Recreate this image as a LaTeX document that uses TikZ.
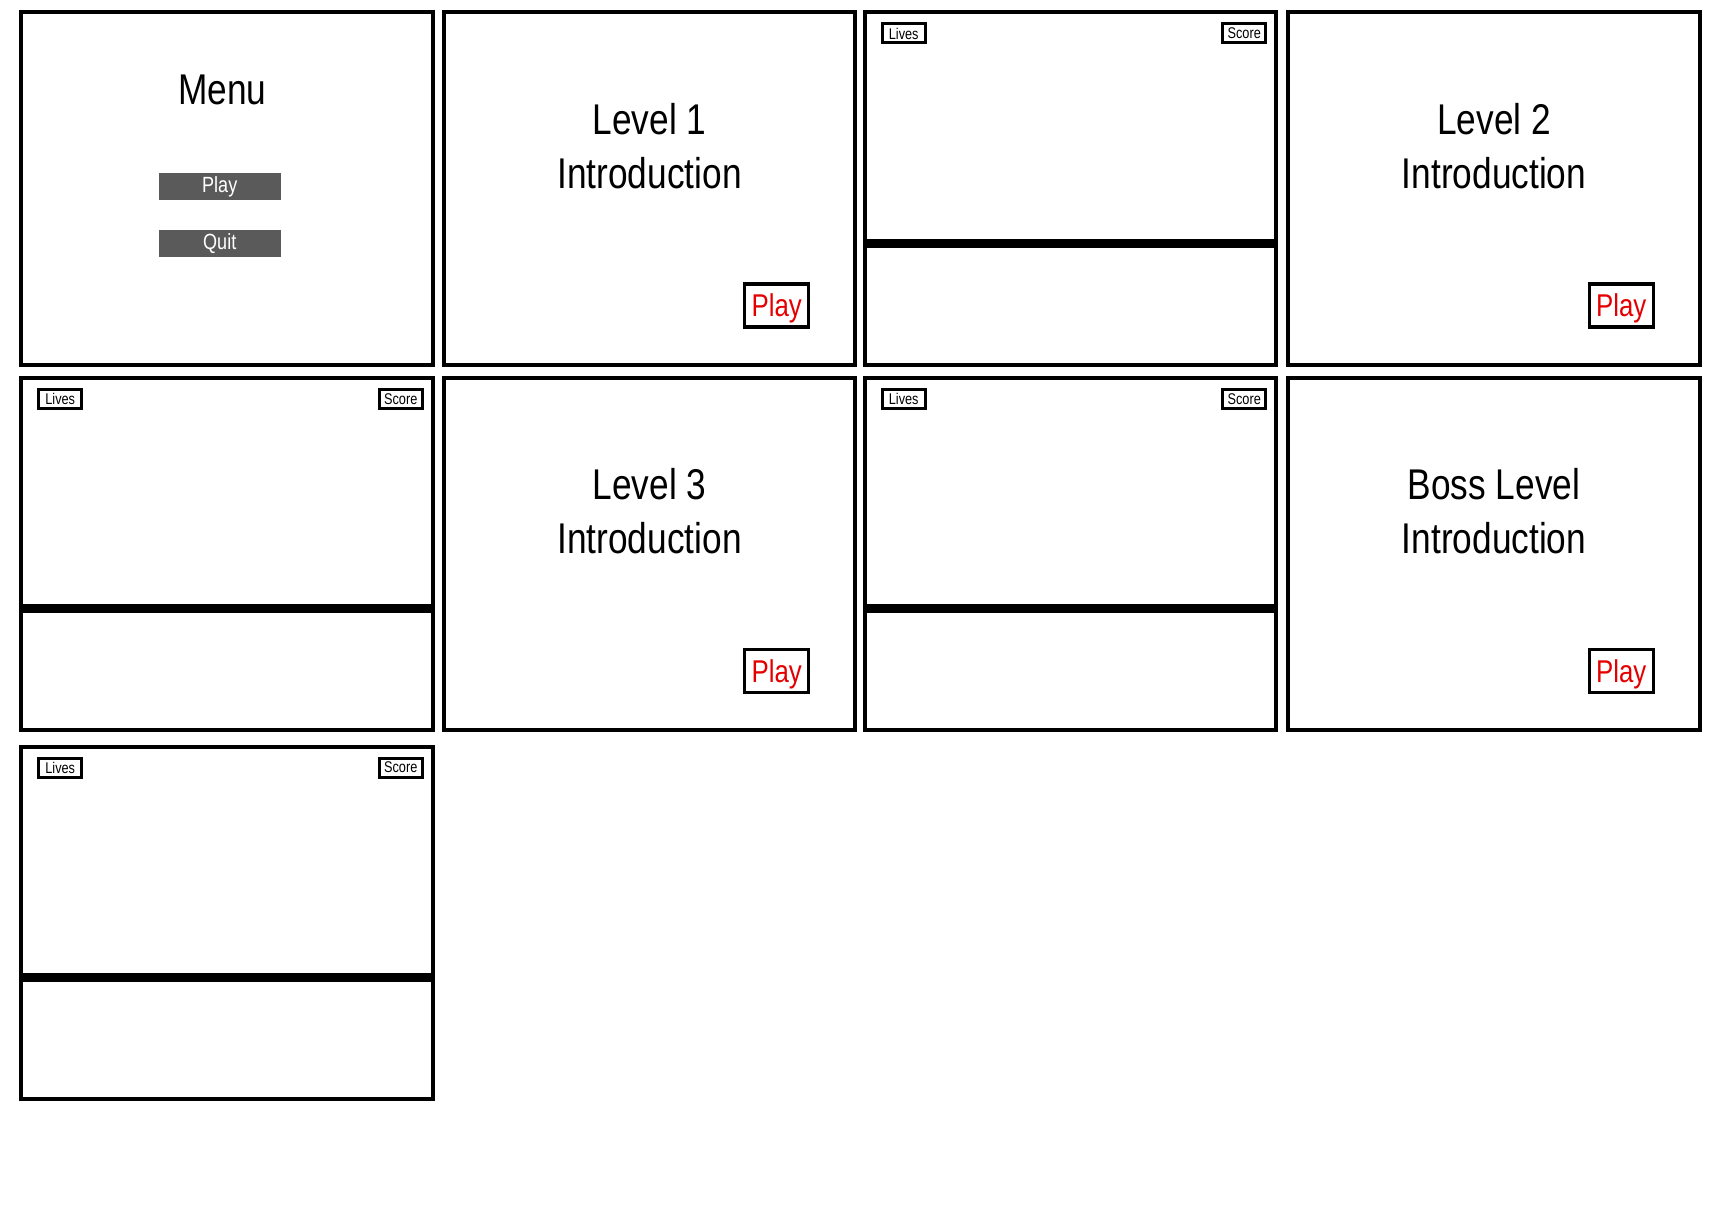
\documentclass[tikz,border=0pt]{standalone}
\usepackage{fontspec}
\usepackage{xcolor}
\usetikzlibrary{positioning}
\newfontfamily\narrowsans[FakeStretch=0.82]{Liberation Sans}
\definecolor{btngray}{RGB}{90,90,90}
\definecolor{playred}{RGB}{228,0,0}
\tikzset{
    panel/.style={draw, line width=4pt, minimum width=411.5pt, minimum height=352pt, inner sep=0pt, outer sep=0pt},
    divider/.style={line width=9pt},
    hud/.style={draw, line width=3pt, minimum width=43pt, minimum height=19pt, inner sep=0pt, font=\narrowsans\fontsize{15.5}{18}\selectfont},
    playbtn/.style={draw, line width=3.3pt, text=playred, minimum width=64pt, minimum height=43pt, inner sep=0pt, text depth=0pt, font=\narrowsans\fontsize{31.5}{36}\selectfont},
    menubtn/.style={fill=btngray, text=white, minimum width=122pt, minimum height=27pt, inner sep=0pt, font=\narrowsans\fontsize{22}{26}\selectfont},
    title/.style={align=center, anchor=base, inner sep=0pt, font=\narrowsans\fontsize{43}{54}\selectfont}
}
\begin{document}
\begin{tikzpicture}[x=1pt, y=-1pt]
        \useasboundingbox (0,0) rectangle (1721,1217);
        % panels
        \node[panel] (menu) at (227,188.5) {};
        \node[panel] (introA) at (649.5,188.5) {};
        \node[panel] (gameA) at (1070.5,188.5) {};
        \node[panel] (introB) at (1494,188.5) {};
        \node[panel] (gameB) at (227,553.75) {};
        \node[panel] (introC) at (649.5,553.75) {};
        \node[panel] (gameC) at (1070.5,553.75) {};
        \node[panel] (introD) at (1494,553.75) {};
        \node[panel] (gameD) at (227,922.5) {};
        % menu
        \node[title] (menutitle) at ([shift={(201,92)}]menu.north west) {Menu};
        \node[menubtn] (menuplay) at ([shift={(198.5,174.5)}]menu.north west) {Play};
        \node[menubtn, below=29pt of menuplay] (menuquit) {Quit};
        % introductions (base sits on the last line)
        \foreach \scr/\txt in {introA/Level 1, introB/Level 2, introC/Level 3, introD/Boss Level}{
            \node[title] (\scr title) at ([shift={(0,176)}]\scr.north) {\txt\\Introduction};
            \node[playbtn] (\scr play) at ([shift={(-78.5,293)}]\scr.north east) {Play};
        }
        % game screens
        \foreach \scr in {gameA, gameB, gameC, gameD}{
            \node[hud] (\scr lives) at ([shift={(39,21)}]\scr.north west) {Lives};
            \node[hud] (\scr score) at ([shift={(-32,21)}]\scr.north east) {Score};
            \draw[divider] ([shift={(0,231)}]\scr.north west) -- ([shift={(0,231)}]\scr.north east);
        }
    \end{tikzpicture}
\end{document}
